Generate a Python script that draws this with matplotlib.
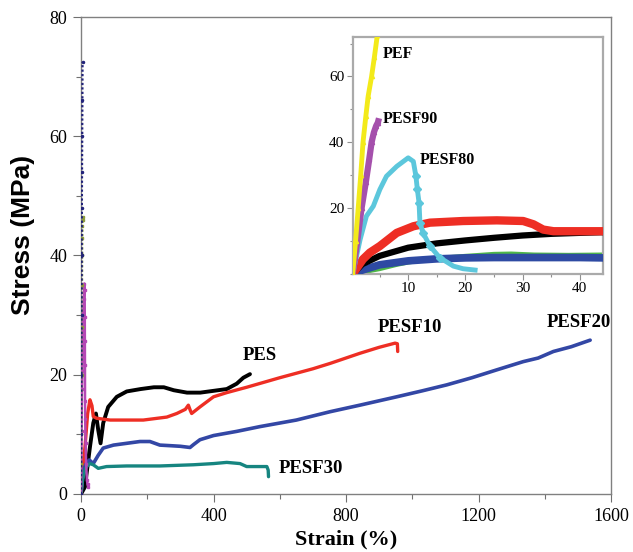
import matplotlib
matplotlib.use("Agg")
import matplotlib.pyplot as plt
from matplotlib.ticker import MultipleLocator

# ---------------- data (main panel) ----------------
pes_x = [0, 5, 12, 17, 27, 37, 45, 52, 59, 67, 82, 108, 138, 180, 220, 250, 280, 320, 360, 400, 440, 470, 490, 510]
pes_y = [0, 0.5, 1.2, 3.5, 7.9, 11.9, 13.5, 10.7, 8.5, 11.9, 14.6, 16.3, 17.2, 17.6, 17.9, 17.9, 17.4, 17.0, 17.0, 17.3, 17.6, 18.5, 19.5, 20.1]

pesf10_x = [0, 5, 12, 20, 27, 33, 37, 47, 88, 188, 259, 289, 315, 324, 330, 334, 359, 400, 440, 500, 600, 700, 752, 842, 900, 948, 955, 956]
pesf10_y = [0, 4, 7.9, 13.5, 15.8, 14.8, 13.0, 12.7, 12.4, 12.4, 12.9, 13.5, 14.2, 14.9, 14.0, 13.5, 14.6, 16.3, 17.0, 17.9, 19.5, 21.0, 21.9, 23.6, 24.6, 25.3, 25.2, 23.9]

pesf20_x = [0, 7, 15, 25, 37, 52, 67, 98, 138, 178, 208, 238, 270, 300, 329, 340, 359, 400, 470, 540, 650, 752, 842, 953, 1030, 1104, 1180, 1254, 1335, 1380, 1426, 1480, 1537]
pesf20_y = [0, 4.0, 5.0, 5.7, 5.1, 6.5, 7.7, 8.2, 8.5, 8.8, 8.8, 8.2, 8.1, 8.0, 7.8, 8.3, 9.1, 9.8, 10.5, 11.3, 12.4, 13.8, 14.9, 16.3, 17.3, 18.3, 19.5, 20.8, 22.2, 22.8, 23.9, 24.7, 25.8]

pesf30_x = [0, 5, 12, 17, 27, 37, 52, 77, 138, 238, 339, 400, 440, 480, 500, 540, 561, 565, 566]
pesf30_y = [0, 2.5, 4.0, 4.6, 5.1, 4.9, 4.3, 4.6, 4.7, 4.7, 4.9, 5.1, 5.3, 5.1, 4.6, 4.6, 4.6, 4.0, 2.9]

# brittle samples (shared between main panel and inset)
pef_x = [0.3, 0.8, 1.26, 1.7, 2.1, 2.6, 3.0, 3.6, 4.1, 4.6]
pef_y = [0, 10, 20, 30, 40, 48, 54, 60, 66, 72.5]

pesf90_x = [0.3, 0.7, 1.1, 1.85, 2.6, 3.2, 3.6, 4.0, 4.4, 4.7, 4.76]
pesf90_y = [0, 5, 10, 20, 28, 35, 40, 43, 45, 46, 46.4]

pesf80_x = [0.3, 1.6, 2.7, 3.9, 5.05, 6.2, 8.0, 10.0, 10.9, 11.35, 11.6, 11.9, 12.05, 12.6, 13.8, 15.5, 17.9, 19.6, 21.7]
pesf80_y = [0, 10.5, 17.6, 20.6, 25.7, 29.7, 32.7, 35.3, 34.2, 29.7, 25.7, 21.6, 15.6, 12.5, 8.5, 5.0, 2.4, 1.6, 1.2]

# ---------------- data (inset, low-strain region) ----------------
in_pes_x = [0.3, 2, 5, 10, 15, 20, 25, 30, 35, 40, 44]
in_pes_y = [0, 3, 5.5, 8, 9.3, 10.2, 11.0, 11.7, 12.2, 12.5, 12.7]

in_pesf10_x = [0.3, 2.1, 3.3, 5.05, 8.0, 10.9, 13.8, 19.6, 25.5, 30.1, 31.9, 33.6, 35.4, 44]
in_pesf10_y = [0, 4.5, 6.5, 8.5, 12.5, 14.5, 15.6, 16.1, 16.3, 16.1, 15.1, 13.5, 13.0, 13.0]

in_pesf20_x = [0.3, 2, 5, 10, 15, 20, 25, 30, 35, 40, 44]
in_pesf20_y = [0, 1.2, 2.8, 4.0, 4.6, 4.9, 5.0, 5.0, 5.0, 5.0, 4.9]

in_pesf30_x = [0.3, 2, 5, 8, 10, 15, 20, 25, 28, 32, 38, 44]
in_pesf30_y = [0, 0.5, 1.5, 2.8, 3.5, 4.8, 5.5, 6.1, 6.2, 5.9, 5.8, 5.9]

main_xticks = [0, 400, 800, 1200, 1600]
main_yticks = [0, 20, 40, 60, 80]
inset_xticks = [10, 20, 30, 40]
inset_yticks = [20, 40, 60]

# ---------------- figure ----------------
plt.rcParams['font.family'] = ['Liberation Serif', 'DejaVu Serif']
fig = plt.figure(figsize=(6.33, 5.52), dpi=100)
ax = fig.add_axes([0.128, 0.1051, 0.8373, 0.8641])

RED = '#EE2E24'
BLUE = '#3347A5'
TEAL = '#168580'

ax.plot(pes_x, pes_y, color='black', lw=2.8, solid_capstyle='round', zorder=3)
ax.plot(pesf10_x, pesf10_y, color=RED, lw=2.4, solid_capstyle='round', zorder=3)
ax.plot(pesf20_x, pesf20_y, color=BLUE, lw=2.6, solid_capstyle='round', zorder=3)
ax.plot(pesf30_x, pesf30_y, color=TEAL, lw=2.4, solid_capstyle='round', zorder=3)
ax.plot(pesf80_x, pesf80_y, color='#B548B5', lw=1.8, marker='s', ms=1.8, zorder=4)
ax.plot(pesf90_x, pesf90_y, color='#8C9A3C', lw=1.6, marker='s', ms=1.6, ls=(0, (1, 1)), zorder=5)
ax.plot(pef_x, pef_y, color='#22237A', lw=1.6, marker='.', ms=3, ls=(0, (1, 1)), zorder=6)

ax.set_xlim(0, 1600)
ax.set_ylim(0, 80)
ax.set_xticks(main_xticks)
ax.set_yticks(main_yticks)
ax.xaxis.set_minor_locator(MultipleLocator(200))
ax.yaxis.set_minor_locator(MultipleLocator(10))
ax.tick_params(which='major', direction='out', length=6, width=0.8, color='#707070',
               labelsize=13, pad=4)
ax.tick_params(which='minor', direction='out', length=3.5, width=0.8, color='#707070')
for s in ax.spines.values():
    s.set_color('#808080')
    s.set_linewidth(1.0)

ax.set_xlabel('Strain (%)', fontsize=16, fontweight='bold', labelpad=3)
ax.set_ylabel('Stress (MPa)', fontsize=19, fontweight='bold',
              family=['Liberation Sans', 'DejaVu Sans'])
ax.yaxis.set_label_coords(-0.087, 0.543)

lab = dict(fontsize=13.5, fontweight='bold', va='center', ha='left')
ax.text(489, 23.3, 'PES', **lab)
ax.text(897, 27.9, 'PESF10', **lab)
ax.text(1406, 28.8, 'PESF20', **lab)
ax.text(596, 4.2, 'PESF30', **lab)

# ---------------- inset ----------------
ins = fig.add_axes([0.5572, 0.5036, 0.3949, 0.4294])
ins.plot(in_pesf20_x, in_pesf20_y, color='#2E4AA3', lw=5.5, zorder=3)
ins.plot(in_pesf30_x, in_pesf30_y, color='#4FB848', lw=3.0, zorder=2)
ins.plot(in_pes_x, in_pes_y, color='black', lw=4.5, zorder=4)
ins.plot(in_pesf10_x, in_pesf10_y, color=RED, lw=6, zorder=4)
ins.plot(pesf80_x, pesf80_y, color='#5CC7DC', lw=3.5, zorder=5)
ins.plot(pesf80_x[9:16], pesf80_y[9:16], color='#5CC7DC', lw=0, marker='D', ms=4.5, zorder=5)
ins.plot(pesf90_x, pesf90_y, color='#A550AC', lw=4.5, marker='^', ms=3, zorder=6)
ins.plot(pef_x, pef_y, color='#F3EA1A', lw=3.5, marker='^', ms=3, zorder=7, clip_on=True)

ins.set_xlim(0.3, 44)
ins.set_ylim(0, 72)
ins.set_xticks(inset_xticks)
ins.set_yticks(inset_yticks)
ins.xaxis.set_minor_locator(MultipleLocator(5))
ins.yaxis.set_minor_locator(MultipleLocator(10))
ins.tick_params(which='major', direction='out', length=4, width=0.8, color='#909090',
                labelsize=11, pad=2)
ins.tick_params(which='minor', direction='out', length=2.5, width=0.8, color='#909090')
for s in ins.spines.values():
    s.set_color('#AAAAAA')
    s.set_linewidth(1.6)

ilab = dict(fontsize=11.5, fontweight='bold', va='center', ha='left')
ins.text(5.63, 66.9, 'PEF', **ilab)
ins.text(5.63, 47.1, 'PESF90', **ilab)
ins.text(12.05, 34.5, 'PESF80', **ilab)

fig.savefig('out.png', dpi=100)
